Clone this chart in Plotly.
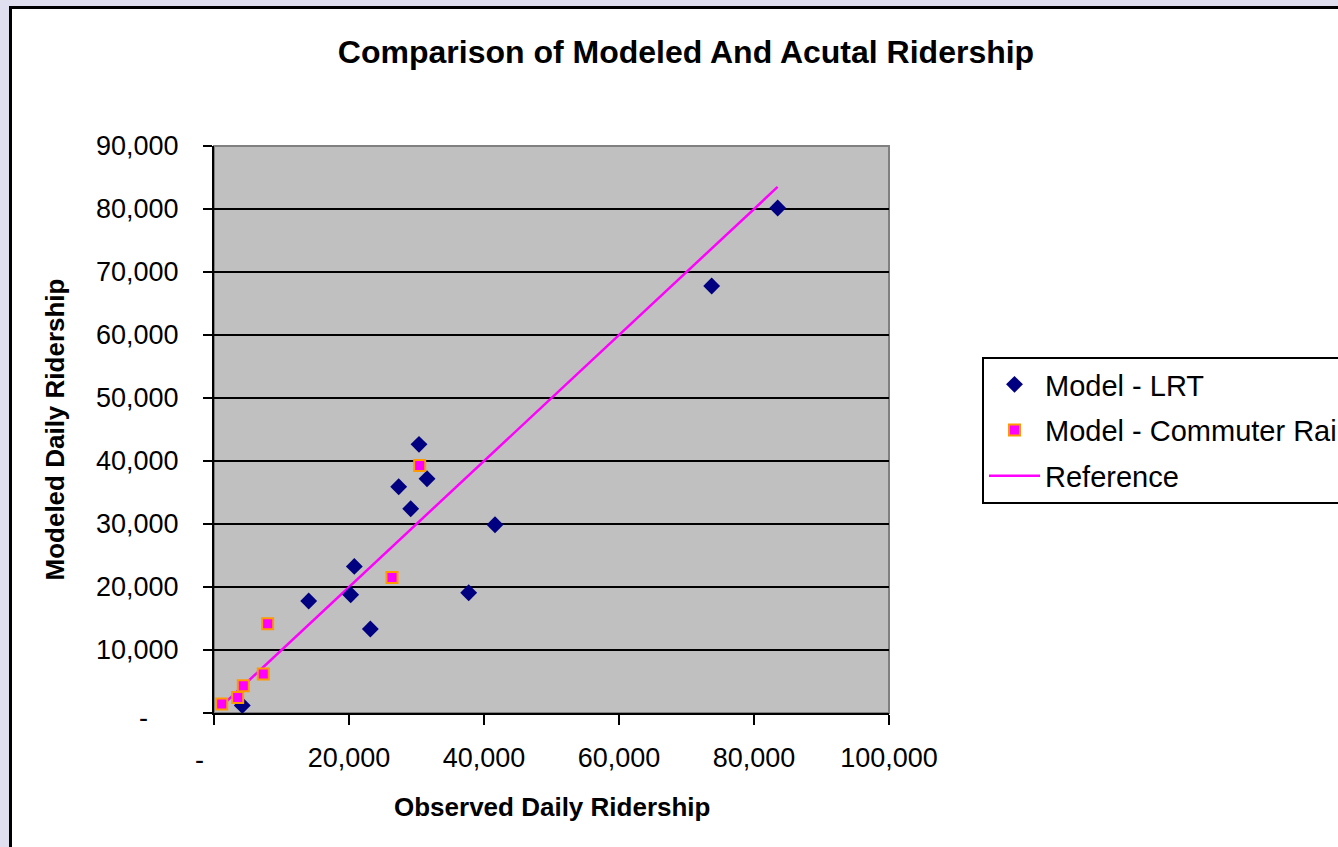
import plotly.graph_objects as go

# ---- data ----
lrt_observed = [4190, 14030, 20250, 20790, 23160, 37730, 27360, 29140, 30370, 31560, 41630, 73730, 83510]
lrt_modeled = [1200, 17780, 18780, 23270, 13330, 19090, 35920, 32430, 42640, 37190, 29890, 67780, 80160]

cr_observed = [1140, 3510, 4340, 7300, 7950, 26370, 30470]
cr_modeled = [1430, 2480, 4330, 6190, 14170, 21520, 39300]

ref_x = [1100, 83500]
ref_y = [1100, 83500]

x_ticks = [0, 20000, 40000, 60000, 80000, 100000]
x_ticktext = ["", "20,000", "40,000", "60,000", "80,000", "100,000"]
y_ticks = [0, 10000, 20000, 30000, 40000, 50000, 60000, 70000, 80000, 90000]
y_ticktext = ["", "10,000", "20,000", "30,000", "40,000", "50,000", "60,000", "70,000", "80,000", "90,000"]

title_text = "Comparison of Modeled And Acutal Ridership"
x_title = "Observed Daily Ridership"
y_title = "Modeled Daily Ridership"

FONT = "Liberation Sans, Arial, sans-serif"
W, H = 1338, 847
ML, MR, MT, MB = 214, 1338 - 889, 146, 847 - 713
PW, PH = W - ML - MR, H - MT - MB


def px_to_paper_x(px):
    return (px - ML) / PW


def px_to_paper_y(py):
    return (H - MB - py) / PH


fig = go.Figure()

fig.add_trace(go.Scatter(
    x=ref_x, y=ref_y, mode="lines", name="Reference",
    legendgroup="c", legendrank=3,
    line=dict(color="#FF00FF", width=2.5),
))
fig.add_trace(go.Scatter(
    x=lrt_observed, y=lrt_modeled, mode="markers", name="Model - LRT",
    legendgroup="a", legendrank=1,
    marker=dict(symbol="diamond", size=13, color="#000080", line=dict(width=0)),
))
fig.add_trace(go.Scatter(
    x=cr_observed, y=cr_modeled, mode="markers", name="Model - Commuter Rail",
    legendgroup="b", legendrank=2,
    marker=dict(symbol="square", size=11, color="#FF00FF", line=dict(width=2, color="#FF9900")),
))

axis_common = dict(
    showline=True, linecolor="black", linewidth=2,
    ticks="outside", tickcolor="black", tickwidth=2,
    tickfont=dict(family=FONT, size=27, color="black"),
    zeroline=False, automargin=False,
)

fig.update_xaxes(
    range=[0, 100000], tickvals=x_ticks, ticktext=x_ticktext,
    showgrid=False, ticklen=10, ticklabelstandoff=10, **axis_common,
)
fig.update_yaxes(
    range=[0, 90000], tickvals=y_ticks, ticktext=y_ticktext,
    showgrid=True, gridcolor="black", gridwidth=2, ticklen=9, ticklabelstandoff=19,
    **axis_common,
)

shapes = [
    # lavender outer strips
    dict(type="rect", xref="paper", yref="paper", x0=px_to_paper_x(-5), x1=px_to_paper_x(9),
         y0=px_to_paper_y(900), y1=px_to_paper_y(-5), fillcolor="#DFDFEF", line=dict(width=0), layer="below"),
    dict(type="rect", xref="paper", yref="paper", x0=px_to_paper_x(-5), x1=px_to_paper_x(1400),
         y0=px_to_paper_y(6), y1=px_to_paper_y(-5), fillcolor="#DFDFEF", line=dict(width=0), layer="below"),
    # black chart border (left and top)
    dict(type="line", xref="paper", yref="paper", x0=px_to_paper_x(10.5), x1=px_to_paper_x(10.5),
         y0=px_to_paper_y(900), y1=px_to_paper_y(6), line=dict(color="black", width=3)),
    dict(type="line", xref="paper", yref="paper", x0=px_to_paper_x(9), x1=px_to_paper_x(1400),
         y0=px_to_paper_y(7.5), y1=px_to_paper_y(7.5), line=dict(color="black", width=3)),
    # plot area border
    dict(type="rect", xref="paper", yref="paper", x0=0, x1=1, y0=0, y1=1,
         line=dict(color="#808080", width=2), layer="below"),
]

annotations = [
    dict(text=x_title, xref="paper", yref="paper", x=0.5, y=px_to_paper_y(807),
         xanchor="center", yanchor="middle", showarrow=False,
         font=dict(family=FONT, size=26, color="black", weight="bold")),
    dict(text=y_title, xref="paper", yref="paper", x=px_to_paper_x(54), y=0.5,
         xanchor="center", yanchor="middle", textangle=-90, showarrow=False,
         font=dict(family=FONT, size=26, color="black", weight="bold")),
    # zero labels shown as "-"
    dict(text="-", xref="x", yref="y", x=0, y=0, xshift=-15, yshift=-47,
         showarrow=False, font=dict(family=FONT, size=27, color="black")),
    dict(text="-", xref="x", yref="y", x=0, y=0, xshift=-71, yshift=-5,
         showarrow=False, font=dict(family=FONT, size=27, color="black")),
]

fig.update_layout(
    width=W, height=H,
    margin=dict(l=ML, r=MR, t=MT, b=MB, autoexpand=False),
    paper_bgcolor="white", plot_bgcolor="#C0C0C0",
    title=dict(text=title_text, xref="container", yref="container",
               x=686 / W, y=1 - 52 / H, xanchor="center", yanchor="middle",
               font=dict(family=FONT, size=32, color="black", weight="bold")),
    legend=dict(
        xref="container", yref="container", x=982 / W, y=1 - 357 / H,
        xanchor="left", yanchor="top",
        bgcolor="white", bordercolor="black", borderwidth=2,
        font=dict(family=FONT, size=29, color="black"),
        itemwidth=51, tracegroupgap=5, traceorder="grouped",
    ),
    shapes=shapes,
    annotations=annotations,
    font=dict(family=FONT),
)

fig.write_html(
    "out.html",
    config={"displayModeBar": False},
    post_script="document.body.style.margin='0';document.body.style.overflow='hidden';",
)
